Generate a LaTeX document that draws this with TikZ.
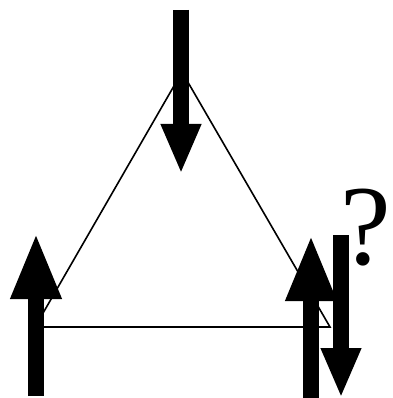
\documentclass[tikz,border=0pt]{standalone}
\usepackage{fontspec}
\setmainfont{Liberation Serif}
\usetikzlibrary{arrows.meta, positioning, calc}
\tikzset{
    bond/.style = {draw=black, line width=1.6pt},
    bigspin/.style = {line width=15.5pt, -{Triangle[length=66pt, width=47pt]}},
    smallspin/.style = {line width=16pt, -{Triangle[length=50pt, width=37pt]}}
}

\begin{document}
\begin{tikzpicture}[x=1pt, y=-1pt]
\useasboundingbox (0,0) rectangle (392,398);

% lattice sites
\coordinate (sa) at (182,72);
\coordinate (sb) at (35,327);
\coordinate (sc) at (330,327);
\draw[bond] (sa) -- (sb) -- (sc) -- cycle;

% spins
\coordinate (topfrom) at (181,10);
\coordinate (topto) at (181,174);
\coordinate (leftfrom) at (36,396);
\coordinate (leftto) at (36,233);
\coordinate (upfrom) at (311,398);
\coordinate (upto) at (311,235);
\coordinate (downfrom) at (341,235);
\coordinate (downto) at (341,398);

\draw[smallspin] (topfrom) -- (topto);
\draw[bigspin] (leftfrom) -- (leftto);
\draw[bigspin] (upfrom) -- (upto);
\draw[smallspin] (downfrom) -- (downto);

\node[inner sep=0pt, font=\fontsize{114}{114}\selectfont] (query) at (366,228) {?};

\end{tikzpicture}
\end{document}
